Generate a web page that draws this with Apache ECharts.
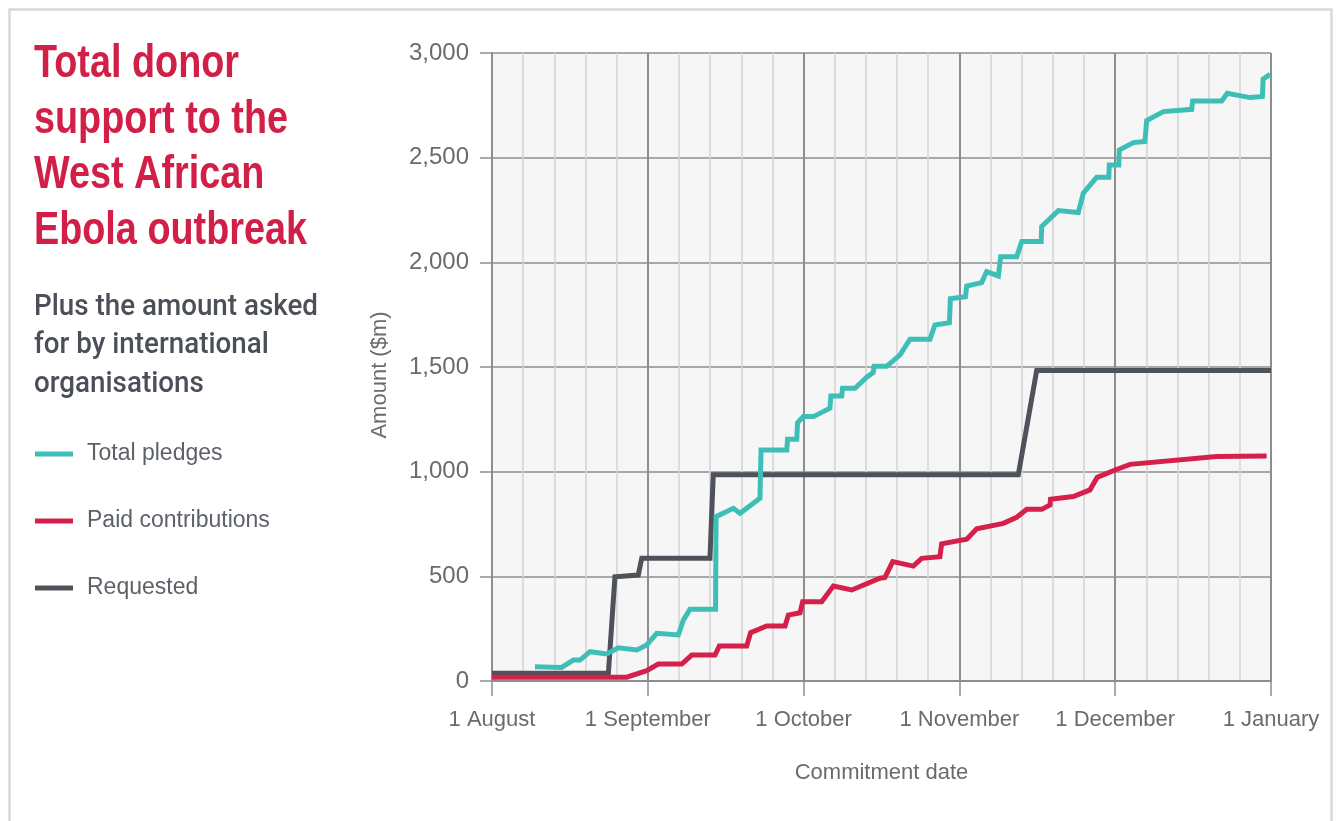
<!DOCTYPE html>
<html>
<head>
<meta charset="utf-8">
<script src="https://cdn.jsdelivr.net/npm/echarts@6/dist/echarts.min.js"></script>
<style>
html,body{margin:0;padding:0;background:#ffffff;}
#chart{width:1338px;height:821px;}
</style>
</head>
<body>
<div id="chart"></div>
<script>
// ---- Data (x = months since 1 August; axis is month-uniform) ----
const monthLabels = ['1 August', '1 September', '1 October', '1 November', '1 December', '1 January'];
const yTickValues = [0, 500, 1000, 1500, 2000, 2500, 3000];

const seriesNames = ['Total pledges', 'Paid contributions', 'Requested'];

const pledgesMonth = [0.276, 0.447, 0.522, 0.565, 0.629, 0.736, 0.811, 0.929, 0.993, 1.057,
  1.196, 1.228, 1.271, 1.435, 1.438, 1.549, 1.592, 1.720, 1.727, 1.892,
  1.897, 1.956, 1.961, 1.998, 2.063, 2.169, 2.175, 2.245, 2.250, 2.330,
  2.405, 2.447, 2.452, 2.533, 2.619, 2.683, 2.811, 2.843, 2.936, 2.942,
  3.039, 3.047, 3.143, 3.175, 3.250, 3.265, 3.368, 3.400, 3.525, 3.528,
  3.635, 3.763, 3.795, 3.881, 3.959, 3.962, 4.023, 4.026, 4.116, 4.191,
  4.202, 4.309, 4.491, 4.497, 4.684, 4.719, 4.865, 4.945, 4.949, 4.994];
const pledgesAmount = [68, 65, 100, 100, 140, 129, 159, 148, 172, 228,
  220, 291, 343, 343, 785, 825, 801, 873, 1104, 1104,
  1155, 1155, 1234, 1263, 1263, 1303, 1362, 1362, 1398, 1398,
  1451, 1473, 1503, 1503, 1558, 1633, 1633, 1701, 1712, 1826,
  1836, 1887, 1903, 1956, 1935, 2027, 2027, 2099, 2099, 2171,
  2247, 2238, 2330, 2406, 2406, 2465, 2465, 2537, 2572, 2577,
  2677, 2720, 2731, 2771, 2771, 2808, 2787, 2792, 2875, 2898];

const paidMonth = [0, 0.865, 0.993, 1.067, 1.218, 1.282, 1.431, 1.459, 1.635, 1.660,
  1.763, 1.881, 1.902, 1.977, 1.994, 2.116, 2.191, 2.309, 2.490, 2.522,
  2.572, 2.704, 2.758, 2.875, 2.886, 3.047, 3.111, 3.282, 3.368, 3.432,
  3.528, 3.582, 3.585, 3.731, 3.838, 3.885, 3.999, 4.095, 4.651, 4.972];
const paidAmount = [18, 18, 49, 81, 81, 124, 124, 167, 167, 231,
  263, 263, 315, 326, 379, 379, 454, 435, 491, 495,
  570, 549, 586, 594, 655, 677, 727, 753, 782, 820,
  820, 841, 868, 881, 913, 973, 1008, 1035, 1072, 1075];

const requestedMonth = [0, 0.747, 0.789, 0.939, 0.961, 1.399, 1.420, 3.378, 3.496, 5];
const requestedAmount = [37, 37, 498, 506, 586, 586, 985, 985, 1483, 1483];

// ---- Styling ----
const TEAL = '#3dbfb8', RED = '#d4204a', DARK = '#4e5259';
const TITLE_RED = '#d11f47', SUB_GREY = '#4b4f58', AXIS_TEXT = '#6b6b6b', GRID_MAJOR = '#8e8e90', GRID_MINOR = '#d3d3d3';

function zip(xs, ys) { return xs.map((x, i) => [x, ys[i]]); }
function fitScale(text, font, target) {
  const ctx = document.createElement('canvas').getContext('2d');
  ctx.font = font;
  return target / ctx.measureText(text).width;
}

const titleFont = 'bold 46px "Liberation Sans", Arial, sans-serif';
const subFont = '500 30px Roboto, "Liberation Sans", sans-serif';
const titleScale = fitScale('Total donor', titleFont, 205);
const subScale = fitScale('Plus the amount asked', subFont, 284);

const chart = echarts.init(document.getElementById('chart'), null, { renderer: 'canvas' });

const lineSeries = (name, data, color, z) => ({
  name, type: 'line', data, showSymbol: false, symbol: 'none', z,
  lineStyle: { color, width: 5, join: 'miter' },
  itemStyle: { color },
  emphasis: { disabled: true }
});

chart.setOption({
  animation: false,
  backgroundColor: '#ffffff',
  textStyle: { fontFamily: '"Liberation Sans", Arial, sans-serif' },
  grid: {
    left: 492, right: 67, top: 53, bottom: 140,
    show: true, backgroundColor: '#f6f6f6', borderWidth: 0
  },
  legend: {
    data: seriesNames,
    orient: 'vertical',
    left: 35, top: 442, padding: 0,
    icon: 'rect', itemWidth: 38, itemHeight: 5, itemGap: 43,
    selectedMode: false,
    textStyle: { fontSize: 23, color: '#5d6168', lineHeight: 24, padding: [0, 0, 0, 9],
      fontFamily: '"Liberation Sans", Arial, sans-serif' }
  },
  xAxis: {
    type: 'value', min: 0, max: 5, interval: 1,
    name: 'Commitment date', nameLocation: 'middle', nameGap: 81,
    nameTextStyle: { fontSize: 22, color: AXIS_TEXT },
    axisLine: { show: true, lineStyle: { color: GRID_MAJOR, width: 2 } },
    axisTick: { show: true, inside: false, length: 15, lineStyle: { color: GRID_MAJOR, width: 1.5 } },
    axisLabel: { fontSize: 22, color: AXIS_TEXT, margin: 28,
      formatter: v => monthLabels[Math.round(v)] ?? '' },
    splitLine: { show: true, lineStyle: { color: GRID_MAJOR, width: 2 } },
    minorTick: { show: false, splitNumber: 5 },
    minorSplitLine: { show: true, lineStyle: { color: GRID_MINOR, width: 1.5 } }
  },
  yAxis: {
    type: 'value', min: yTickValues[0], max: yTickValues[yTickValues.length - 1], interval: 500,
    name: 'Amount ($m)', nameLocation: 'middle', nameGap: 101, nameRotate: 90,
    nameTextStyle: { fontSize: 22, color: AXIS_TEXT, padding: [0, 16, 0, 0] },
    axisLine: { show: true, lineStyle: { color: GRID_MAJOR, width: 2 } },
    axisTick: { show: true, inside: false, length: 12, lineStyle: { color: GRID_MAJOR, width: 1.5 } },
    axisLabel: { fontSize: 24, color: AXIS_TEXT, margin: 23,
      formatter: v => v.toLocaleString('en-US') },
    splitLine: { show: true, lineStyle: { color: GRID_MAJOR, width: 1.5 } }
  },
  series: [
    lineSeries('Requested', zip(requestedMonth, requestedAmount), DARK, 2),
    lineSeries('Total pledges', zip(pledgesMonth, pledgesAmount), TEAL, 3),
    lineSeries('Paid contributions', zip(paidMonth, paidAmount), RED, 4)
  ],
  graphic: [
    { type: 'rect', silent: true, z: -1,
      shape: { x: 9.5, y: 9.5, width: 1322, height: 840 },
      style: { fill: 'none', stroke: '#d9d9d9', lineWidth: 2.5 } },
    { type: 'text', x: 34, y: 37, scaleX: titleScale, originX: 0, originY: 0,
      style: { text: 'Total donor\nsupport to the\nWest African\nEbola outbreak',
        font: titleFont, fill: TITLE_RED, lineHeight: 55.5, verticalAlign: 'top', align: 'left' } },
    { type: 'text', x: 34, y: 288, scaleX: subScale, originX: 0, originY: 0,
      style: { text: 'Plus the amount asked\nfor by international\norganisations',
        font: subFont, fill: SUB_GREY, lineHeight: 38.5, verticalAlign: 'top', align: 'left' } }
  ]
});
</script>
</body>
</html>
